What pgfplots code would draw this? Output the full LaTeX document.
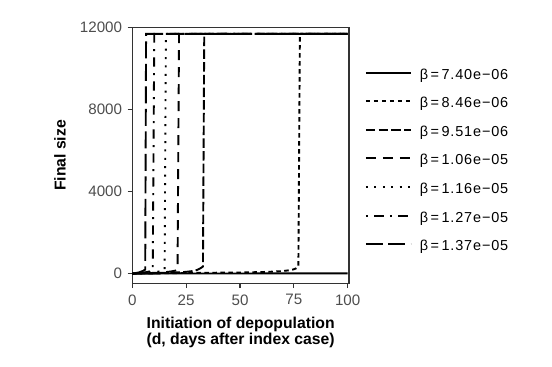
\documentclass[border=0pt]{standalone}
\usepackage{fontspec}
\setmainfont{Liberation Sans}
\usepackage{pgfplots}
\pgfplotsset{compat=1.18}
\definecolor{tickgray}{HTML}{4D4D4D}
\definecolor{axgray}{HTML}{333333}
\newcommand{\legfont}{\fontsize{14.5}{16}\selectfont\addfontfeature{LetterSpace=6}}
\newcommand{\ttlfont}{\fontsize{15.8}{16.5}\selectfont\bfseries}
\begin{document}
\begin{tikzpicture}
\useasboundingbox (0,0) rectangle (552bp,367bp);
\begin{axis}[
  at={(132.3bp,83.7bp)}, anchor=south west,
  scale only axis, width=216.7bp, height=255.6bp,
  xmin=0, xmax=100.6, ymin=-468, ymax=12000,
  xtick={0,25,50,75,100}, ytick={0,4000,8000,12000},
  scaled y ticks=false,
  /pgf/number format/1000 sep={},
  /pgf/number format/assume math mode=true,
  tick label style={font=\fontsize{15.2}{18}\selectfont, color=tickgray},
  xticklabel style={yshift=-3bp},
  yticklabel style={xshift=-2bp},
  tick align=outside, major tick length=4.7bp,
  xtick pos=bottom, ytick pos=left,
  axis line style={color=axgray, line width=1.1bp},
  tick style={color=axgray, line width=1.1bp},
  xlabel={Initiation of depopulation\\(d, days after index case)},
  xlabel style={font=\ttlfont, align=center, at={(axis description cs:0.5,-0.1299)}, anchor=north, inner sep=0pt},
  ylabel={Final size},
  ylabel style={font=\ttlfont, at={(axis description cs:-0.3075,0.5)}, anchor=base, inner sep=0pt},
  legend style={draw=none, fill=none, at={(axis description cs:1.0738,0.8619)}, anchor=north west,
    inner sep=0pt, outer sep=0pt, column sep=8bp, row sep=0pt, font=\legfont,
    nodes={inner sep=0pt, text height=16bp, text depth=12.6bp}},
  legend cell align=left,
  legend image code/.code={\draw[#1, line width=2bp] (0bp,4.8bp) -- (45bp,4.8bp);},
]
% beta = 7.40e-06
\addplot[black, line width=1.9bp] coordinates {(0,5) (25,10) (50,12) (75,14) (100,15)};
\addlegendentry{β\,=\,7.40e−06}
% beta = 8.46e-06
\addplot[black, line width=1.9bp, dash pattern=on 4.5bp off 3.5bp] coordinates {
(0,5) (10,20) (20,30) (30,40) (40,50) (50,60) (60,80) (65,100) (70,130) (73,170) (75,215) (76,260) (77.1,340) (77.8,11700) (100,11700)};
\addlegendentry{β\,=\,8.46e−06}
% beta = 9.51e-06
\addplot[black, line width=1.9bp, dash pattern=on 9.5bp off 3.2bp] coordinates {
(0,5) (10,30) (20,60) (25,90) (28,130) (30,180) (31,230) (32,290) (32.8,350) (33.4,11700) (100,11700)};
\addlegendentry{β\,=\,9.51e−06}
% beta = 1.06e-05
\addplot[black, line width=1.9bp, dash pattern=on 10bp off 7bp] coordinates {
(0,5) (10,40) (15,70) (18,110) (20,150) (21,200) (21.7,11700) (100,11700)};
\addlegendentry{β\,=\,1.06e−05}
% beta = 1.16e-05
\addplot[black, line width=1.9bp, dash pattern=on 2bp off 6.4bp] coordinates {
(0,5) (8,50) (12,100) (14,140) (15,180) (15.6,11700) (100,11700)};
\addlegendentry{β\,=\,1.16e−05}
% beta = 1.27e-05
\addplot[black, line width=1.9bp, dash pattern=on 2bp off 6.5bp on 9.3bp off 6.2bp] coordinates {
(0,5) (5,50) (8,110) (9.5,170) (10.2,11700) (100,11700)};
\addlegendentry{β\,=\,1.27e−05}
% beta = 1.37e-05
\addplot[black, line width=1.9bp, dash pattern=on 17bp off 5.5bp] coordinates {
(0,5) (3,60) (5,140) (6,200) (6.4,11700) (100,11700)};
\addlegendentry{β\,=\,1.37e−05}
\end{axis}
\end{tikzpicture}
\end{document}
